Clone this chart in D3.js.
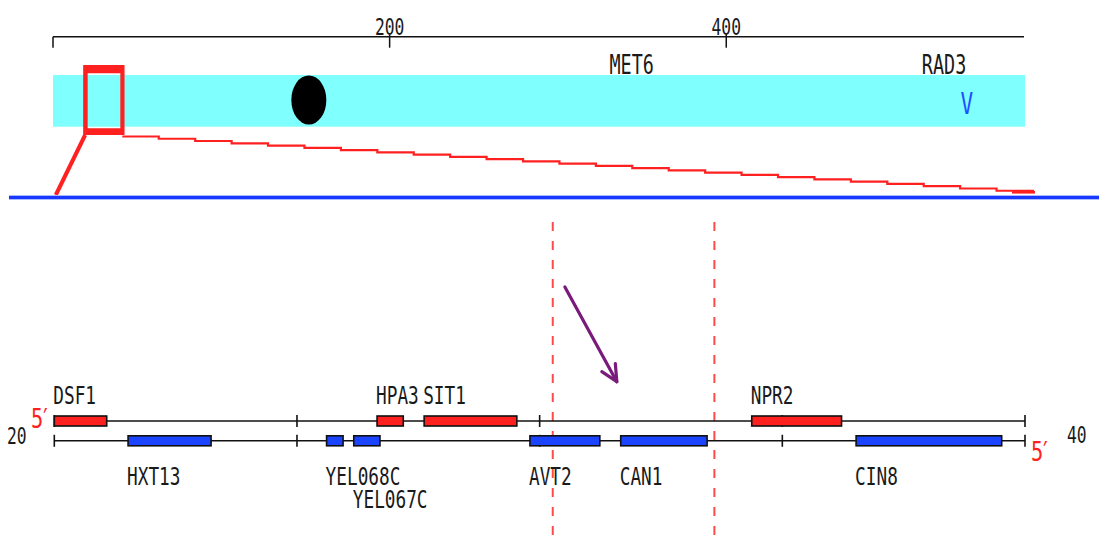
<!DOCTYPE html>
<html><head><meta charset="utf-8">
<script src="https://cdn.jsdelivr.net/npm/d3@7"></script>
<style>html,body{margin:0;padding:0;background:#fff;overflow:hidden}</style>
</head><body><svg id="chart" width="1099" height="538"></svg>
<script>
// ---------------- data ----------------
const chromName = "V";
const chromLengthKb = 576.9;
const centromereKb = 152;
const overviewTicks = [0, 200, 400];
const overviewTickLabels = ["", "200", "400"];
const landmarkNames = ["MET6", "RAD3"];
const landmarkKb = [330.6, 516.2];
const chromLabelKb = 543;
const zoomWindowKb = [20, 40];
const detailTicks = [20, 25, 30, 35, 40];
const detailEndLabels = ["20", "40"];
const geneNames  = ["DSF1", "HPA3", "SIT1", "NPR2", "HXT13", "YEL068C", "YEL067C", "AVT2", "CAN1", "CIN8"];
const geneStart  = [20.0, 26.65, 27.62, 34.37, 21.52, 25.61, 26.17, 29.80, 31.67, 36.52];
const geneEnd    = [21.08, 27.19, 29.53, 36.22, 23.23, 25.95, 26.71, 31.24, 33.45, 39.52];
const geneStrand = ["W", "W", "W", "W", "C", "C", "C", "C", "C", "C"];
const labelRow   = [0, 0, 0, 0, 0, 0, 1, 0, 0, 0];
const markerKb = [30.27, 33.60];
const arrowKb = [30.52, 31.59];

// ---------------- layout ----------------
const svg = d3.select("#chart");
const FONT = "DejaVu Sans Mono";
const SX = 0.71;
const RED = "#ff2020", BLUE = "#1a44ff", CYAN = "#80ffff";

function txt(t, x, y, opt = {}) {
  return svg.append("text")
    .attr("transform", `translate(${x},${y}) scale(${opt.sx || SX},1)`)
    .attr("text-anchor", opt.anchor || "start")
    .attr("font-family", FONT)
    .attr("font-size", opt.size || 25)
    .attr("fill", opt.fill || "#1a1a1a")
    .text(t);
}

const xo = d3.scaleLinear().domain([0, chromLengthKb]).range([53, 1024]);
const xd = d3.scaleLinear().domain(zoomWindowKb).range([54.3, 1025]);

// ---- overview axis ----
const axY = 36.7;
svg.append("line").attr("x1", xo(0)).attr("x2", xo(chromLengthKb))
  .attr("y1", axY).attr("y2", axY).attr("stroke", "#111").attr("stroke-width", 1.5);
svg.selectAll(".otick").data(overviewTicks).enter().append("line")
  .attr("x1", d => xo(d)).attr("x2", d => xo(d))
  .attr("y1", (d, i) => i === 0 ? axY : axY - 2).attr("y2", axY + 11)
  .attr("stroke", "#111").attr("stroke-width", 1.5);
overviewTicks.forEach((d, i) => {
  if (overviewTickLabels[i]) txt(overviewTickLabels[i], xo(d), 34.5, {anchor: "middle", size: 23});
});

// ---- chromosome band ----
svg.append("rect").attr("x", xo(0)).attr("y", 75)
  .attr("width", xo(chromLengthKb) - xo(0) + 1).attr("height", 51.7).attr("fill", CYAN);
svg.append("ellipse").attr("cx", xo(centromereKb)).attr("cy", 100)
  .attr("rx", 17.5).attr("ry", 24.5).attr("fill", "#000");
landmarkNames.forEach((n, i) => txt(n, xo(landmarkKb[i]), 73.5, {size: 26}));
txt(chromName, xo(chromLabelKb), 113.5, {anchor: "middle", size: 31, fill: "#2050ff", sx: 0.68});

// ---- zoom frame ----
const fx0 = xo(zoomWindowKb[0]), fx1 = xo(zoomWindowKb[1]);
const outer = [fx0 - 3.5, 65, fx1 + 4.2, 135];
const inner = [fx0 + 1, 73.3, fx1, 128.3];
const rp = r => `M${r[0]},${r[1]}H${r[2]}V${r[3]}H${r[0]}Z`;
svg.append("path").attr("d", rp(outer) + rp(inner)).attr("fill-rule", "evenodd").attr("fill", RED);

// connector lines
svg.append("line").attr("x1", fx0 - 1.5).attr("y1", 135).attr("x2", xd(zoomWindowKb[0]) + 1.5).attr("y2", 195)
  .attr("stroke", RED).attr("stroke-width", 4);
// stepped (pixelated) diagonal from frame to end of the chromosome
(function () {
  const x0 = fx1 + 2, y0 = 136.5, x1 = 1033, y1 = 193, nSteps = 25;
  const w = (x1 - x0) / nSteps, dy = (y1 - y0) / nSteps;
  let d = `M${x0},${y0}`;
  for (let k = 0; k < nSteps; k++) {
    d += `H${x0 + (k + 1) * w}V${y0 + (k + 1) * dy}`;
  }
  svg.append("path").attr("d", d).attr("fill", "none").attr("stroke", RED).attr("stroke-width", 2.2);
})();
svg.append("line").attr("x1", 1012).attr("y1", 192.3).attr("x2", 1035).attr("y2", 192.3)
  .attr("stroke", RED).attr("stroke-width", 2.6);

// blue baseline
svg.append("line").attr("x1", 9).attr("x2", 1099).attr("y1", 197.5).attr("y2", 197.5)
  .attr("stroke", "#aabbff").attr("stroke-width", 5);
svg.append("line").attr("x1", 9).attr("x2", 1099).attr("y1", 197.5).attr("y2", 197.5)
  .attr("stroke", "#1838ff").attr("stroke-width", 3);

// ---- dashed markers ----
svg.selectAll(".mk").data(markerKb).enter().append("line")
  .attr("x1", d => xd(d)).attr("x2", d => xd(d)).attr("y1", 222).attr("y2", 538)
  .attr("stroke", "#ff4a4a").attr("stroke-width", 2).attr("stroke-dasharray", "9,10");

// ---- arrow ----
const ax0 = xd(arrowKb[0]), ay0 = 287, ax1 = xd(arrowKb[1]), ay1 = 381.7;
svg.append("line").attr("x1", ax0).attr("y1", ay0).attr("x2", ax1).attr("y2", ay1)
  .attr("stroke", "#7a1a7a").attr("stroke-width", 3.2).attr("stroke-linecap", "round");
svg.append("path")
  .attr("d", `M${ax1 - 15},${ay1 - 10}L${ax1},${ay1}L${ax1 - 1.5},${ay1 - 18}`)
  .attr("fill", "none").attr("stroke", "#7a1a7a").attr("stroke-width", 3.2)
  .attr("stroke-linejoin", "round").attr("stroke-linecap", "round");

// ---- detail strands ----
const strandY = {W: 421, C: 440.8};
Object.values(strandY).forEach(y => {
  svg.append("line").attr("x1", xd(zoomWindowKb[0])).attr("x2", xd(zoomWindowKb[1]))
    .attr("y1", y).attr("y2", y).attr("stroke", "#111").attr("stroke-width", 1.6);
  svg.selectAll(null).data(detailTicks).enter().append("line")
    .attr("x1", d => xd(d)).attr("x2", d => xd(d)).attr("y1", y - 6).attr("y2", y + 6)
    .attr("stroke", "#111").attr("stroke-width", 1.6);
});

const genes = geneNames.map((n, i) => ({name: n, s: geneStart[i], e: geneEnd[i], strand: geneStrand[i], row: labelRow[i]}));
svg.selectAll(".gene").data(genes).enter().append("rect")
  .attr("x", d => xd(d.s)).attr("y", d => strandY[d.strand] - 5)
  .attr("width", d => xd(d.e) - xd(d.s)).attr("height", 10)
  .attr("fill", d => d.strand === "W" ? RED : BLUE)
  .attr("stroke", "#111").attr("stroke-width", 1.6);
genes.forEach(d => {
  const y = d.strand === "W" ? 403.5 : 485 + d.row * 22.5;
  txt(d.name, xd(d.s) - 1, y);
});

// end labels ("5′" with the prime tucked against the digit)
function fivePrime(x, y) {
  txt("5\u2032", x, y, {fill: RED, size: 26, sx: 0.78}).attr("letter-spacing", -5);
}
fivePrime(31, 428);
fivePrime(1031, 460.5);
txt(detailEndLabels[0], 7, 444, {size: 23});
txt(detailEndLabels[1], 1067, 443, {size: 23});
</script></body></html>
